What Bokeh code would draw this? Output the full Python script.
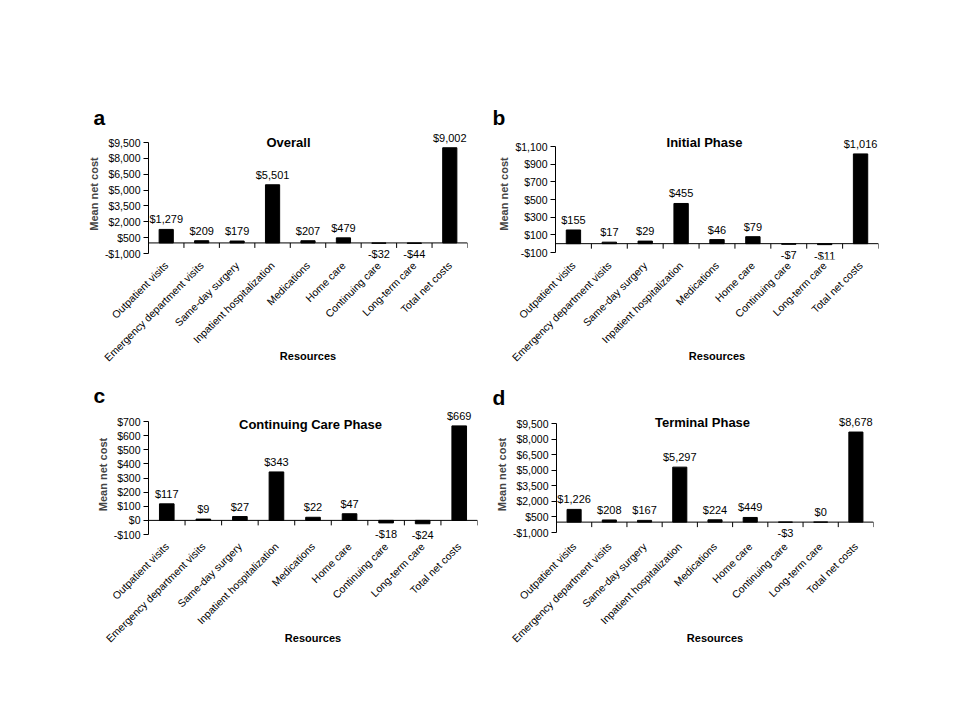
import math
from bokeh.plotting import figure
from bokeh.models import FixedTicker, Range1d, Span, Label, Title, ColumnDataSource
from bokeh.layouts import column, row
from bokeh.embed import file_html
from bokeh.resources import INLINE
from bokeh.core.properties import value

categories = ["Outpatient visits", "Emergency department visits", "Same-day surgery",
              "Inpatient hospitalization", "Medications", "Home care",
              "Continuing care", "Long-term care", "Total net costs"]
overall = [1279, 209, 179, 5501, 207, 479, -32, -44, 9002]
initial = [155, 17, 29, 455, 46, 79, -7, -11, 1016]
continuing = [117, 9, 27, 343, 22, 47, -18, -24, 669]
terminal = [1226, 208, 167, 5297, 224, 449, -3, 0, 8678]

ticks_overall = [-1000, 500, 2000, 3500, 5000, 6500, 8000, 9500]
ticks_initial = [-100, 100, 300, 500, 700, 900, 1100]
ticks_continuing = [-100, 0, 100, 200, 300, 400, 500, 600, 700]
ticks_terminal = [-1000, 500, 2000, 3500, 5000, 6500, 8000, 9500]

titles = ["Overall", "Initial Phase", "Continuing Care Phase", "Terminal Phase"]
letters = ["a", "b", "c", "d"]
x_title = "Resources"
y_title = "Mean net cost"

FONT = "Liberation Sans"


def money(v):
    return ("-$" if v < 0 else "$") + f"{abs(v):,}"


def panel(vals, ticks, title, letter, L):
    # L: layout dict (pixel geometry only)
    n = len(categories)
    xs = list(range(1, n + 1))
    lo, hi = ticks[0], ticks[-1]
    fh = L["fb"] - L["ft"]
    k = (L["pb"] - L["pt"]) / (hi - lo)
    y_end = hi + (L["pt"] - L["ft"]) / k
    y_start = lo - (L["fb"] - L["pb"]) / k

    p = figure(title=None, frame_width=L["fw"], frame_height=fh,
               min_border_left=L["ml"], min_border_right=L["mr"],
               min_border_top=L["mt"], min_border_bottom=L["mb"],
               x_range=Range1d(0.5, n + 0.5), y_range=Range1d(y_start, y_end),
               output_backend="svg", toolbar_location=None)
    p.outline_line_color = None
    p.grid.visible = False
    p.background_fill_color = "white"
    p.border_fill_color = "white"

    p.vbar(x=xs, top=vals, bottom=0, width=0.4, fill_color="black", line_color="black")
    p.add_layout(Span(location=0, dimension="width", line_color="black", line_width=1))
    p.ray(x=[k2 + 0.5 for k2 in range(1, n + 1)], y=[0] * n, length=5, length_units="screen",
          angle=-math.pi / 2, line_color="black", line_width=1)

    pos = ColumnDataSource(dict(x=[x for x, v in zip(xs, vals) if v >= 0],
                                y=[v for v in vals if v >= 0],
                                t=[money(v) for v in vals if v >= 0]))
    neg = ColumnDataSource(dict(x=[x for x, v in zip(xs, vals) if v < 0],
                                y=[v for v in vals if v < 0],
                                t=[money(v) for v in vals if v < 0]))
    p.text(x="x", y="y", text="t", source=pos, text_align="center", text_baseline="bottom",
           y_offset=-4, text_font=value(FONT), text_font_size="11px", text_color="black")
    p.text(x="x", y="y", text="t", source=neg, text_align="center", text_baseline="top",
           y_offset=5, text_font=value(FONT), text_font_size="11px", text_color="black")

    xa = p.xaxis[0]
    xa.ticker = FixedTicker(ticks=xs)
    xa.major_label_overrides = {x: c for x, c in zip(xs, categories)}
    xa.major_label_orientation = math.pi / 4
    xa.axis_line_color = None
    xa.major_tick_line_color = None
    xa.minor_tick_line_color = None
    xa.major_tick_out = 0
    xa.major_tick_in = 0
    xa.major_label_standoff = 4
    xa.major_label_text_font = FONT
    xa.major_label_text_font_size = "10.5px"
    xa.major_label_text_color = "black"
    xa.axis_label = x_title
    xa.axis_label_text_font = FONT
    xa.axis_label_text_font_size = "11px"
    xa.axis_label_text_font_style = "bold"
    xa.axis_label_text_color = "black"
    xa.axis_label_standoff = L["rs"]

    ya = p.yaxis[0]
    ya.ticker = FixedTicker(ticks=ticks)
    ya.bounds = (lo, hi)
    ya.major_label_overrides = {t: money(t) for t in ticks}
    ya.axis_line_color = "black"
    ya.major_tick_line_color = "black"
    ya.major_tick_out = 5
    ya.major_tick_in = 0
    ya.minor_tick_line_color = None
    ya.major_label_standoff = 3
    ya.major_label_text_font = FONT
    ya.major_label_text_font_size = "10.5px"
    ya.major_label_text_color = "black"
    ya.axis_label = y_title
    ya.axis_label_text_font = FONT
    ya.axis_label_text_font_size = "11px"
    ya.axis_label_text_font_style = "bold"
    ya.axis_label_standoff = 2

    p.add_layout(Title(text=letter, align="left", offset=L["lx"], standoff=L["ls"],
                       text_font=FONT, text_font_size="21px", text_font_style="bold",
                       text_color="black"), "above")

    p.add_layout(Label(x=L["tx"], y=L["ty"], x_units="screen", y_units="screen", text=title,
                       text_align="center", text_baseline="alphabetic", text_font=FONT,
                       text_font_size="13px", text_font_style="bold", text_color="black"))
    return p


LA = dict(ml=148, fw=319, mr=13, mt=128, ft=128, fb=259, mb=120, pt=142, pb=253,
          tx=140, ty=117, lx=-55, ls=0, rs=-21)
LB = dict(ml=75, fw=323, mr=60, mt=128, ft=128, fb=259, mb=120, pt=146, pb=252,
          tx=149, ty=117, lx=-63, ls=0, rs=-21)
LC = dict(ml=148, fw=329, mr=3, mt=29, ft=408, fb=540, mb=150, pt=421, pb=534,
          tx=162, ty=116, lx=-55, ls=3, rs=-20)
LD = dict(ml=76, fw=317, mr=65, mt=29, ft=408, fb=540, mb=150, pt=423, pb=532,
          tx=146, ty=118, lx=-64, ls=0, rs=-20)

fa = panel(overall, ticks_overall, titles[0], letters[0], LA)
fb = panel(initial, ticks_initial, titles[1], letters[1], LB)
fc = panel(continuing, ticks_continuing, titles[2], letters[2], LC)
fd = panel(terminal, ticks_terminal, titles[3], letters[3], LD)

layout = column(row(fa, fb), row(fc, fd))
open("out.html", "w").write(file_html(layout, INLINE))
